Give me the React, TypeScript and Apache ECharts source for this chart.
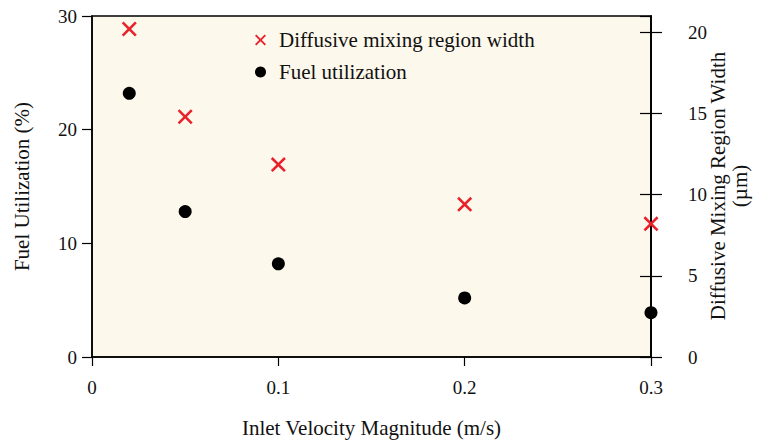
import React, { useEffect, useRef } from "react";
import * as echarts from "echarts";

const velocities = [0.02, 0.05, 0.1, 0.2, 0.3];
const fuelUtilization = [23.2, 12.8, 8.2, 5.2, 3.9];
const mixingWidth = [20.2, 14.8, 11.85, 9.4, 8.2];
const xTicks = [0, 0.1, 0.2, 0.3];
const rightAxisTitle = "Diffusive Mixing Region Width\n(µm)";

const crossPath =
  "path://M0,1.2L1.2,0L5,3.8L8.8,0L10,1.2L6.2,5L10,8.8L8.8,10L5,6.2L1.2,10L0,8.8L3.8,5Z";

const FONT = "'Liberation Serif', 'Times New Roman', serif";

export default function App() {
  const ref = useRef<HTMLDivElement>(null);
  useEffect(() => {
    if (!ref.current) return;
    const chart = echarts.init(ref.current, undefined, { renderer: "svg" });
    const axisLine = { show: true, lineStyle: { color: "#000", width: 1.5 } };
    chart.setOption({
      animation: false,
      textStyle: { fontFamily: FONT },
      grid: {
        left: 92,
        right: 109,
        top: 16,
        bottom: 86,
        outerBoundsMode: "none",
        show: true,
        backgroundColor: "#fdf8ec",
        borderColor: "#000",
        borderWidth: 1.5,
      },
      graphic: [
        {
          type: "text",
          x: 729,
          y: 186,
          rotation: Math.PI / 2,
          style: {
            text: rightAxisTitle,
            align: "center",
            verticalAlign: "middle",
            fontFamily: FONT,
            fontSize: 21,
            lineHeight: 22,
            fill: "#111",
          },
        },
      ],
      legend: {
        orient: "vertical",
        left: 250,
        top: 24,
        itemWidth: 11,
        itemHeight: 11,
        itemGap: 10,
        textStyle: { fontFamily: FONT, fontSize: 21, color: "#111", padding: [0, 0, 0, 8], lineHeight: 22 },
        data: [
          { name: "Diffusive mixing region width", icon: crossPath, itemStyle: { color: "#e8212b" } },
          { name: "Fuel utilization", icon: "circle", itemStyle: { color: "#000" } },
        ],
      },
      xAxis: {
        type: "value",
        min: 0,
        max: 0.3,
        interval: 0.1,
        name: "Inlet Velocity Magnitude (m/s)",
        nameLocation: "middle",
        nameGap: 60,
        nameTextStyle: { fontFamily: FONT, fontSize: 21, color: "#111" },
        axisLine,
        axisTick: { show: true, inside: false, length: 9, lineStyle: { color: "#000", width: 1.2 } },
        axisLabel: {
          fontFamily: FONT,
          fontSize: 19,
          color: "#111",
          margin: 21,
          customValues: xTicks,
          formatter: (v: number) => String(Math.round(v * 10) / 10),
        },
        splitLine: { show: false },
      },
      yAxis: [
        {
          type: "value",
          min: 0,
          max: 30,
          interval: 10,
          position: "left",
          name: "Fuel Utilization (%)",
          nameLocation: "middle",
          nameGap: 60,
          nameTextStyle: { fontFamily: FONT, fontSize: 21, color: "#111" },
          axisLine,
          axisTick: { show: true, inside: false, length: 10, lineStyle: { color: "#000", width: 1.2 } },
          axisLabel: { fontFamily: FONT, fontSize: 19, color: "#111", margin: 15 },
          splitLine: { show: false },
        },
        {
          type: "value",
          min: 0,
          max: 21,
          interval: 5,
          position: "right",
          axisLine,
          axisTick: { show: true, inside: false, length: 11, lineStyle: { color: "#000", width: 1.2 } },
          axisLabel: { fontFamily: FONT, fontSize: 19, color: "#111", margin: 37 },
          splitLine: { show: false },
        },
        {
          type: "value",
          min: 0,
          max: 21,
          interval: 5,
          position: "right",
          axisLine,
          axisTick: { show: true, inside: true, length: 11, lineStyle: { color: "#000", width: 1.2 } },
          axisLabel: { show: false },
          splitLine: { show: false },
        },
      ],
      series: [
        {
          name: "Diffusive mixing region width",
          type: "scatter",
          yAxisIndex: 1,
          symbol: crossPath,
          symbolSize: 15,
          itemStyle: { color: "#e8212b", opacity: 1 },
          data: velocities.map((x, i) => [x, mixingWidth[i]]),
        },
        {
          name: "Fuel utilization",
          type: "scatter",
          yAxisIndex: 0,
          symbol: "circle",
          symbolSize: 13,
          itemStyle: { color: "#000", opacity: 1 },
          data: velocities.map((x, i) => [x, fuelUtilization[i]]),
        },
      ],
    });
    return () => chart.dispose();
  }, []);
  return (
    <div
      ref={ref}
      style={{ position: "absolute", left: 0, top: 0, width: 760, height: 443 }}
    />
  );
}
